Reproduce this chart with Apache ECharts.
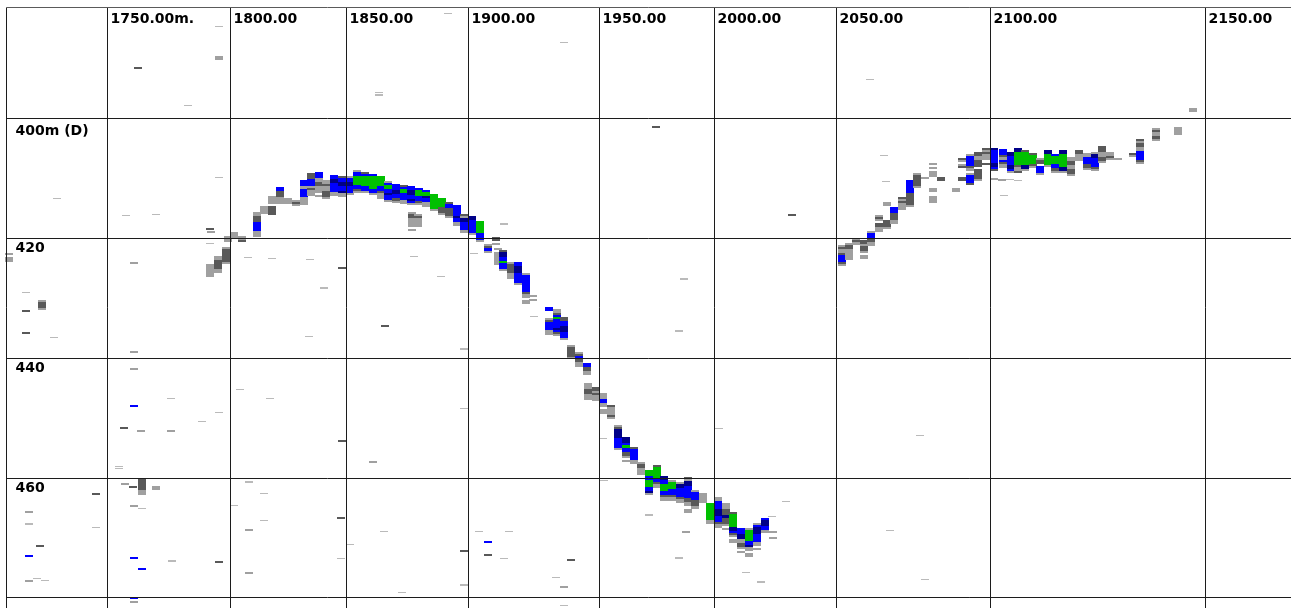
<!DOCTYPE html>
<html>
<head>
<meta charset="utf-8">
<script src="https://cdn.jsdelivr.net/npm/echarts@6/dist/echarts.min.js"></script>
<style>
  html, body { margin: 0; padding: 0; background: #fff; }
  #main { width: 1291px; height: 608px; }
</style>
</head>
<body>
<div id="main"></div>
<script>
// distance fixes: ping number where each fix was taken, and its label
var fixPings = [107.5, 230.5, 346.5, 468.5, 599.5, 714.5, 836.5, 990.5, 1205.5];
var fixLabels = ['1750.00m.', '1800.00', '1850.00', '1900.00', '1950.00', '2000.00', '2050.00', '2100.00', '2150.00'];

// depth grid (m) and its labels
var depthLines = [400, 420, 440, 460, 480];
var depthLabels = ['400m (D)', '420', '440', '460'];

// echo columns: [ping, top depth (m), samples]  one char per depth bin
// l light grey, d dark grey, b blue, n dark blue, g green, x faint, ' ' nothing
var echoWest = [
  [230, 418.9, 'lll'], [238, 419.6, 'lld'], [253, 415.6, 'lldddbbbblll'], [260, 414.6, 'llll'],
  [268, 412.9, 'llll dddd'], [276, 411.4, 'bbdddlll'], [284, 413.3, 'lll'], [292, 413.6, 'ldl'],
  [300, 410.3, 'bbblbbbbllll'], [307, 409.1, 'dddbbbldlll'], [315, 408.9, 'bbbllddlll l'],
  [322, 410.3, 'lldlldddl'], [330, 409.4, 'bbnnbbbbll'], [338, 409.6, 'dbbnnbbnll'],
  [346, 409.6, 'lbbnnbbbl'], [353, 408.6, 'lbbggggbbdl'], [361, 408.9, 'dbgggggbbl'],
  [369, 409.3, 'bggggggbbl'], [377, 409.6, 'gggggbbdlll'], [384, 410.4, 'lbggbbnbbl'],
  [392, 410.9, 'bbbnnbbdl'], [400, 411.1, 'dbggbbbll'], [407, 411.3, 'bbnnbbnbl'],
  [408, 415.6, 'lddllll l'], [414, 416.0, 'ldllll'], [415, 411.6, 'bgggbbdl'],
  [422, 411.9, 'bggnbbll'], [430, 412.6, 'gggggggl'], [438, 413.3, 'ggggdddl'],
  [445, 413.9, 'dbbddddl'], [453, 414.5, 'bbbbbnbbll'], [460, 415.9, 'dlnnbbbbl'],
  [468, 416.3, 'nnbbbbbbl'], [476, 417.1, 'ggggggbbbl'], [484, 421.0, 'ldbl'],
  [492, 419.8, 'dd l'], [494, 421.6, 'l llllll'], [499, 422.0, 'dnnbbgbbbl'],
  [507, 424.0, 'lddddlll'], [514, 424.0, 'bbnnnbbbbbl'], [522, 425.8, 'lbbbbbbbbdll ll'],
  [529, 429.5, 'l l'], [545, 431.5, 'bb'], [545, 433.3, 'ldbbbbll'],
  [553, 431.8, 'lldbgbbbbnbdl'], [560, 433.2, 'ddbbnnnbbbl'], [567, 437.8, 'ldddddl'],
  [575, 439.0, 'ldbddll'], [583, 440.8, 'bbddll'], [584, 444.2, 'lllddlll'],
  [592, 444.8, 'ddldlll'], [599, 445.8, 'lllbbll ll'], [607, 447.9, 'dlll'],
  [607, 449.2, 'ldl'], [614, 451.2, 'ldnnnnbbbbbl'], [622, 453.2, 'nnnbgbbddl l'],
  [630, 454.9, 'dbbbbbll'], [637, 457.4, 'lddlll'], [645, 458.7, 'gggbbgggbbnl'],
  [653, 457.9, 'dgggggbbdll'], [660, 459.7, 'nnbbgggbbdll'], [668, 460.4, 'lgggbbbdll'],
  [676, 460.7, 'lnnbbbbdll'], [684, 459.9, 'dlnnbbbbbbddll ll'], [691, 462.0, 'lbbbbdddl'],
  [699, 462.5, 'lllll'], [706, 464.2, 'ggggggggll'], [714, 463.2, 'llbbbbnnnbbbdll'],
  [722, 464.2, 'llldddndddl l'], [729, 465.7, 'dggggggnnbdl ll'], [737, 468.4, 'bbbnnllddl l'],
  [745, 468.4, 'lgggggbbnll ll'], [753, 467.6, 'lbnnnbbbbll l'], [761, 466.7, 'bnnnbbl'],
  [769, 468.9, 'l  l']
];

var echoEast = [
  [838, 421.1, 'ldlldbbbdl'], [845, 420.8, 'lddlllll'], [852, 420.0, 'ldl'],
  [860, 420.3, 'ddlddl ll'], [867, 418.8, 'lbbbdll'], [875, 416.1, 'ldl ddll'],
  [883, 417.0, 'dddl'], [883, 413.9, 'll'], [890, 414.8, 'bbbdddll'], [898, 413.1, 'dldlll'],
  [906, 410.3, 'bbbbbbddddddl'], [913, 409.1, 'ldddddl'], [921, 409.8, 'l'],
  [929, 407.4, 'l l lll'], [929, 411.6, 'll  lll'], [937, 409.8, 'dd'], [952, 411.6, 'll'],
  [958, 406.6, 'dl ld    dd'], [966, 405.9, 'lbbbbbdl lbbbbd'], [974, 405.6, 'ddllddd dddddl'],
  [982, 404.9, 'dldlll d'], [990, 404.9, 'nbbbbbbnnbd'], [999, 405.1, 'bbbdlbdll'],
  [1007, 405.6, 'nnbbbbnnbl'], [1014, 404.9, 'nnggggggdlld'], [1021, 405.3, 'dggggggnnl'],
  [1029, 405.8, 'dggggdl'], [1036, 406.6, 'ldd bbbl'], [1044, 405.3, 'nngggggl'],
  [1051, 405.9, 'bggggbbdl'], [1059, 405.3, 'nnggggggnnl'], [1067, 406.4, 'llddllddl'],
  [1075, 405.3, 'ddlll'], [1083, 405.8, 'llbbbddl'], [1091, 405.6, 'lnnbbbbdl'],
  [1098, 404.6, 'dddllddl'], [1106, 405.6, 'lldl'], [1114, 406.6, 'l'], [1129, 405.8, 'dl'],
  [1136, 403.4, 'dlddllbbbbdl'], [1152, 401.6, 'ldlldl'], [1174, 401.4, 'llll'],
  [990, 409.9, 'l'], [998, 410.1, 'l'], [1006, 410.1, 'x'], [1014, 410.3, 'x']
];

// isolated returns (noise, fish, clutter)
var noiseWest = [
  [134, 391.4, 'd'], [184, 397.7, 'x'], [215, 384.5, 'x'], [215, 389.6, 'll'], [375, 395.6, 'xx'],
  [444, 382.4, 'x'], [53, 413.3, 'x'], [122, 416.1, 'x'], [152, 415.9, 'x'], [215, 409.8, 'x'],
  [206, 418.3, 'd'], [5, 422.5, 'l ll'], [22, 429.0, 'x'], [22, 432.0, 'd'], [38, 430.3, 'ldddl'],
  [22, 435.7, 'd'], [50, 436.5, 'x'], [130, 424.0, 'l'], [130, 438.8, 'l'], [130, 441.7, 'l'],
  [130, 447.9, 'b'], [120, 451.5, 'd'], [137, 452.0, 'l'], [167, 452.0, 'l'], [167, 446.7, 'x'],
  [198, 450.5, 'x'], [215, 449.0, 'x'], [115, 458.0, 'xx'], [121, 460.8, 'l'], [129, 461.3, 'd'],
  [138, 460.0, 'ddddddll'], [152, 461.3, 'll'], [130, 464.5, 'l'], [138, 465.0, 'x'],
  [25, 465.5, 'l'], [25, 467.6, 'x'], [36, 471.2, 'd'], [25, 472.9, 'b'], [25, 477.1, 'l'],
  [33, 476.7, 'x'], [41, 477.1, 'x'], [92, 462.5, 'd'], [92, 468.2, 'x'], [130, 473.2, 'b'],
  [138, 475.1, 'b'], [168, 473.8, 'x'], [215, 473.9, 'd'], [130, 479.9, 'b'], [130, 480.6, 'l'],
  [207, 418.8, 'l'], [206, 420.8, 'x'], [206, 424.3, 'llllll'], [214, 423.0, 'llddddll'],
  [222, 421.5, 'lddddddl'], [224, 419.6, 'lll'],
  [244, 423.1, 'x'], [268, 423.3, 'x'], [306, 423.5, 'x'], [320, 428.2, 'x'], [338, 424.8, 'd'],
  [305, 436.3, 'x'], [381, 434.5, 'd'], [410, 423.0, 'x'], [437, 426.3, 'x'], [460, 438.4, 'x'],
  [236, 445.1, 'x'], [266, 446.6, 'x'], [338, 453.7, 'd'], [369, 457.2, 'l'], [460, 448.3, 'x'],
  [245, 460.6, 'x'], [260, 462.5, 'x'], [230, 464.5, 'x'], [260, 467.0, 'x'], [245, 468.6, 'l'],
  [337, 466.6, 'd'], [245, 475.7, 'l'], [337, 473.4, 'x'], [346, 471.1, 'x'], [380, 468.9, 'x'],
  [398, 479.1, 'x'], [460, 472.1, 'd'], [460, 477.8, 'x']
];

var noiseEast = [
  [560, 387.2, 'x'], [652, 401.3, 'd'], [866, 393.4, 'x'], [1189, 398.2, 'll'], [500, 417.5, 'x'],
  [470, 422.5, 'x'], [530, 433.0, 'x'], [680, 426.7, 'x'], [675, 435.4, 'x'], [788, 415.9, 'd'],
  [599, 453.4, 'x'], [715, 451.7, 'x'], [600, 460.4, 'x'], [645, 466.1, 'x'], [682, 468.9, 'l'],
  [782, 463.9, 'x'], [768, 466.4, 'x'], [675, 473.3, 'x'], [742, 475.7, 'x'], [757, 477.3, 'x'],
  [475, 468.9, 'x'], [505, 468.9, 'x'], [484, 470.6, 'b'], [484, 472.7, 'd'], [500, 473.4, 'x'],
  [552, 476.6, 'x'], [560, 478.1, 'l'], [567, 473.6, 'd'], [560, 481.2, 'x'],
  [880, 406.1, 'x'], [882, 410.4, 'x'], [1000, 412.8, 'x'], [916, 452.8, 'x'], [886, 468.7, 'x'],
  [921, 476.9, 'x']
];

var PING_MAX = 1291;
var TOP_EDGE = 381.46;   // depth of the upper frame line
var LEFT_EDGE = 6.5;     // ping of the left frame line
var CELL_W = 8;          // pings per echo column
var BIN = 0.35;          // metres per depth sample
var LEVELS = 'ldbngx';
var LEVEL_COLORS = ['#a0a0a0', '#595959', '#0000ff', '#000088', '#00c000', '#bababa'];

// scale: 20 m -> 119.75 px, 400 m sits at y=118.5
var PX_PER_M = 5.9875;
var DEPTH_MIN = 400 - 118.5 / PX_PER_M;
var DEPTH_MAX = 400 + (608 - 118.5) / PX_PER_M;

function toCells(columns) {
  var out = [];
  columns.forEach(function (col) {
    var s = col[2];
    for (var i = 0; i < s.length; i++) {
      var k = LEVELS.indexOf(s[i]);
      if (k < 0) continue;
      out.push([col[0], col[1] + i * BIN, k, k === 5 ? BIN * 0.6 : BIN]);
    }
  });
  return out;
}

function renderCell(params, api) {
  var a = api.coord([api.value(0), api.value(1)]);
  var b = api.coord([api.value(0) + CELL_W, api.value(1) + api.value(3)]);
  var x0 = Math.round(a[0]), y0 = Math.round(a[1]);
  return {
    type: 'rect',
    shape: {
      x: x0, y: y0,
      width: Math.max(1, Math.round(b[0]) - x0),
      height: Math.max(1, Math.round(b[1]) - y0)
    },
    style: { fill: LEVEL_COLORS[api.value(2)] }
  };
}

function renderLabel(params, api) {
  var p = api.coord([api.value(0), api.value(1)]);
  return {
    type: 'text',
    x: p[0] + api.value(2),
    y: p[1] + api.value(3),
    style: {
      text: api.value(4),
      font: 'bold 14px "DejaVu Sans"',
      fill: '#000',
      align: 'left',
      verticalAlign: 'top'
    }
  };
}

var gridLines = [];
fixPings.forEach(function (x) {
  gridLines.push([{ coord: [x, TOP_EDGE] }, { coord: [x, DEPTH_MAX] }]);
});
depthLines.forEach(function (d) {
  gridLines.push([{ coord: [LEFT_EDGE, d] }, { coord: [PING_MAX, d] }]);
});
gridLines.push([{ coord: [LEFT_EDGE, TOP_EDGE] }, { coord: [LEFT_EDGE, DEPTH_MAX] }]);

var labelData = [];
fixPings.forEach(function (x, i) {
  labelData.push([x, TOP_EDGE, 3, 5, fixLabels[i]]);
});
depthLabels.forEach(function (t, i) {
  labelData.push([LEFT_EDGE, depthLines[i], 9, i === 0 ? 6 : 3.5, t]);
});

var myChart = echarts.init(document.getElementById('main'));

var option = {
  backgroundColor: '#fff',
  animation: false,
  grid: { left: 0, right: 0, top: 0, bottom: 0 },
  xAxis: {
    type: 'value', min: 0, max: PING_MAX, show: false,
    splitLine: { show: false }
  },
  yAxis: {
    type: 'value', inverse: true, min: DEPTH_MIN, max: DEPTH_MAX, show: false,
    splitLine: { show: false }
  },
  series: [
    {
      type: 'custom',
      name: 'echo',
      renderItem: renderCell,
      data: toCells(noiseWest).concat(toCells(noiseEast), toCells(echoWest), toCells(echoEast)),
      silent: true,
      z: 2
    },
    {
      type: 'line',
      data: [],
      markLine: {
        silent: true,
        symbol: 'none',
        label: { show: false },
        lineStyle: { color: '#1c1c1c', width: 1, type: 'solid' },
        data: gridLines
      },
      z: 3
    },
    {
      type: 'line',
      data: [],
      markLine: {
        silent: true,
        symbol: 'none',
        label: { show: false },
        lineStyle: { color: '#5a5a5a', width: 1, type: 'solid' },
        data: [[{ coord: [LEFT_EDGE, TOP_EDGE] }, { coord: [PING_MAX, TOP_EDGE] }]]
      },
      z: 3
    },
    {
      type: 'custom',
      name: 'labels',
      renderItem: renderLabel,
      data: labelData,
      silent: true,
      z: 4
    }
  ]
};

window.onresize = myChart.resize;
myChart.setOption(option);
</script>
</body>
</html>
